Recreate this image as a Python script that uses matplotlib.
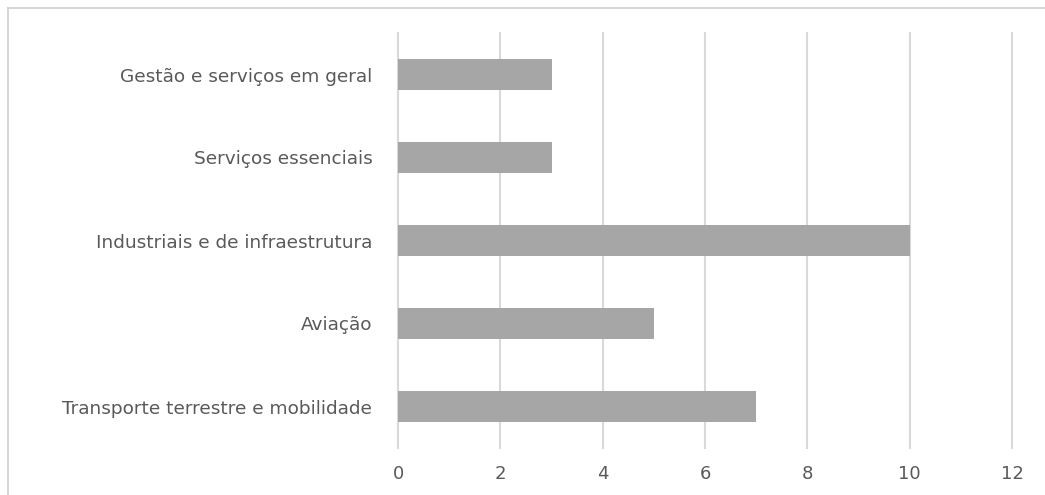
import matplotlib.pyplot as plt
from matplotlib.lines import Line2D

# categories from bottom to top
categorias = ["Transporte terrestre e mobilidade", "Aviação",
              "Industriais e de infraestrutura", "Serviços essenciais",
              "Gestão e serviços em geral"]
valores = [7, 5, 10, 3, 3]
ticks_x = [0, 2, 4, 6, 8, 10, 12]

plt.rcParams['font.family'] = ['DejaVu Sans']

fig = plt.figure(figsize=(10.45, 4.95), dpi=100)
ax = fig.add_axes([398/1045, 1 - 448/495, (1012 - 398)/1045, (448 - 33)/495])

ax.barh(range(len(categorias)), valores, height=0.37, color="#A6A6A6", zorder=3)

ax.set_xlim(0, 12)
ax.set_ylim(-0.5, len(categorias) - 0.5)
ax.set_xticks(ticks_x)
ax.set_yticks(range(len(categorias)))
ax.set_yticklabels(categorias, fontsize=13.3, color="#595959")
ax.tick_params(axis="x", labelsize=13, labelcolor="#595959", length=0, pad=12.5)
ax.tick_params(axis="y", length=0, pad=18.5)
ax.grid(axis="x", color="#D9D9D9", linewidth=1.5, zorder=0)
for gl in ax.get_xgridlines():
    gl.set_clip_on(False)
for s in ax.spines.values():
    s.set_visible(False)

# outer border (only top and left visible in the original crop)
x0, y0 = 7.5/1045, 1 - 8/495
fig.add_artist(Line2D([x0, 1.0], [y0, y0], transform=fig.transFigure, color="#D0D0D0", lw=1.2))
fig.add_artist(Line2D([x0, x0], [0, y0], transform=fig.transFigure, color="#D0D0D0", lw=1.2))

fig.savefig("out.png", dpi=100)
